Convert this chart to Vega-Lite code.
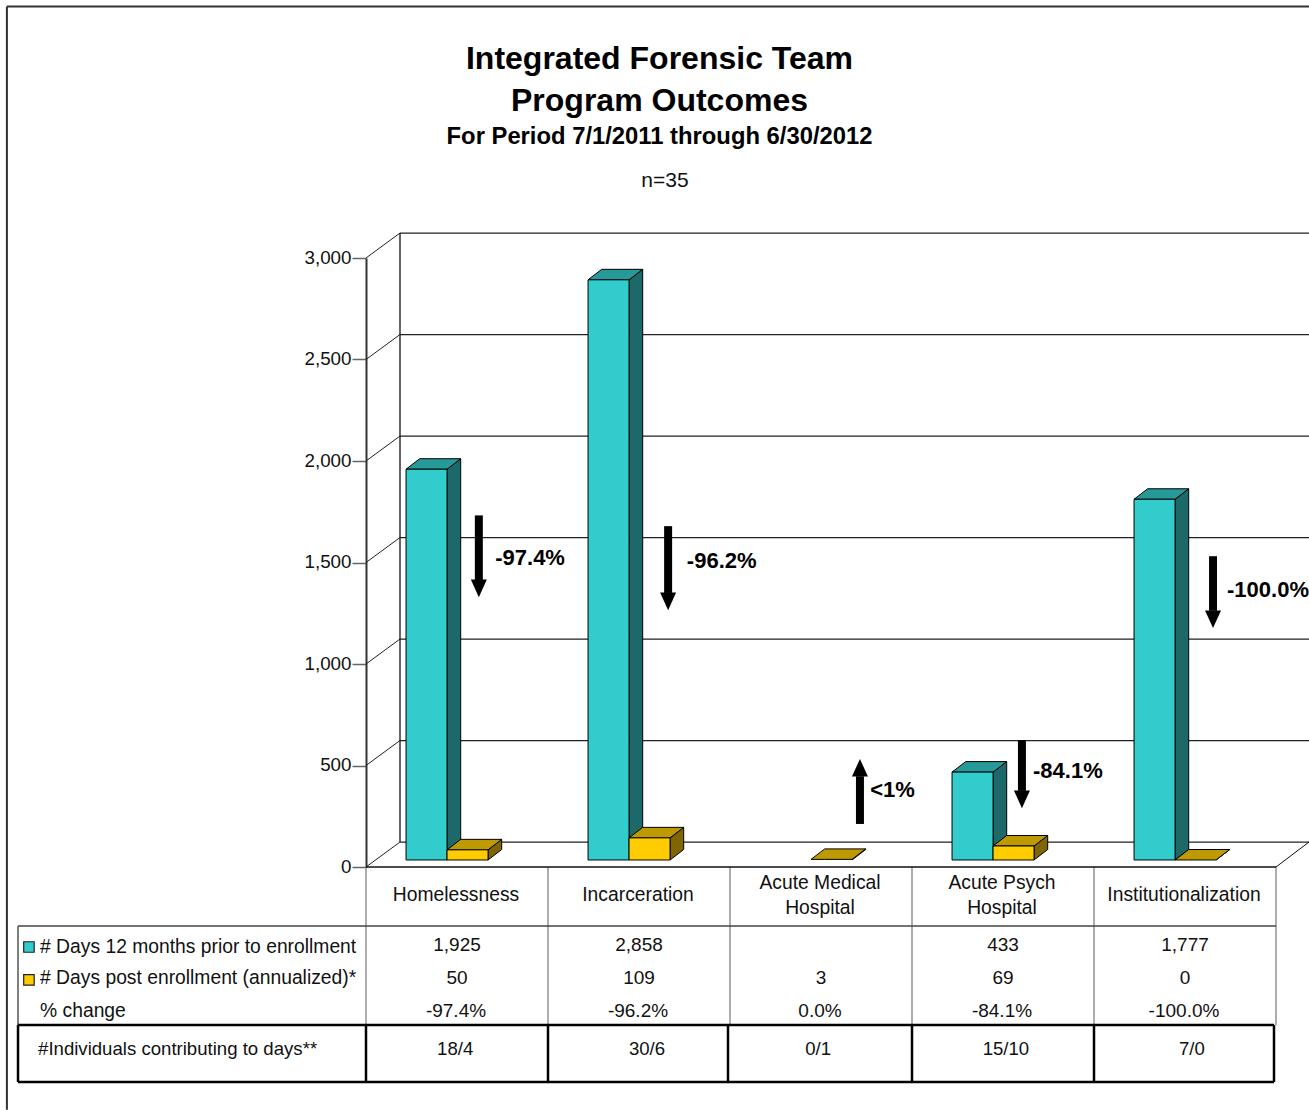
{
"$schema":"https://vega.github.io/schema/vega-lite/v6.json",
"width":943,"height":609,
"padding":{"left":5,"top":5,"right":0,"bottom":0},
"background":"#ffffff",
"title":{"text":["Integrated Forensic Team","Program Outcomes"],"subtitle":"For Period 7/1/2011 through 6/30/2012","anchor":"middle","frame":"group","dx":-178,"offset":-144,"font":"Liberation Sans","fontSize":32,"fontWeight":"bold","lineHeight":42,"color":"#000000","subtitleFont":"Liberation Sans","subtitleFontSize":23.8,"subtitleFontWeight":"bold","subtitleColor":"#000000","subtitlePadding":7},
"config":{"view":{"stroke":null},"axisX":{"disable":true},"axisY":{"labelFont":"Liberation Sans","labelFontSize":18.8,"labelColor":"#111111","labelPadding":1,"labelOffset":-1,"tickSize":14,"tickColor":"#666666","tickWidth":1.5,"domainColor":"#333333","domainWidth":2,"grid":false},"text":{"font":"Liberation Sans","fontSize":19.3,"baseline":"middle","color":"#111111"}},
"datasets":{
"bars":[
{"category":"Homelessness","series":"prior","days":1925},
{"category":"Homelessness","series":"post","days":50},
{"category":"Incarceration","series":"prior","days":2858},
{"category":"Incarceration","series":"post","days":109},
{"category":"Acute Medical Hospital","series":"post","days":3},
{"category":"Acute Psych Hospital","series":"prior","days":433},
{"category":"Acute Psych Hospital","series":"post","days":69},
{"category":"Institutionalization","series":"prior","days":1777},
{"category":"Institutionalization","series":"post","days":0}
],
"cols":[
{"category":"Homelessness","change":"-97.4%","people":"18/4","note":"-97.4%","from":1732,"to":1329},
{"category":"Incarceration","change":"-96.2%","people":"30/6","note":"-96.2%","from":1679,"to":1265},
{"category":"Acute Medical Hospital","change":"0.0%","people":"0/1","note":"<1%","from":212,"to":532},
{"category":"Acute Psych Hospital","change":"-84.1%","people":"15/10","note":"-84.1%","from":625,"to":290},
{"category":"Institutionalization","change":"-100.0%","people":"7/0","note":"-100.0%","from":1531,"to":1177}
],
"rowLabels":[
{"row":"prior","label":"# Days 12 months prior to enrollment"},
{"row":"post","label":"# Days post enrollment (annualized)*"},
{"row":"change","label":"% change"},
{"row":"people","label":"#Individuals contributing to days**"}
],
"grid":[{"v":0},{"v":500},{"v":1000},{"v":1500},{"v":2000},{"v":2500},{"v":3000}],
"edges":[{"b":0},{"b":1},{"b":2},{"b":3},{"b":4},{"b":5}]
},
"layer":[
{"data":{"name":"grid"},"transform":[{"calculate":"datum.v+123","as":"vb"}],"mark":{"type":"rule","color":"#222222","strokeWidth":1.2},
 "encoding":{"x":{"datum":0.1868,"scale":{"domain":[0,5.1813],"nice":false,"zero":false},"title":null},"x2":{"datum":5.1813},"y":{"field":"vb","type":"quantitative","scale":{"domain":[0,3000],"nice":false},"title":null,"axis":{"values":[0,500,1000,1500,2000,2500,3000],"format":",.0f"}}}},
{"data":{"name":"grid"},"transform":[{"calculate":"datum.v+123","as":"vb"}],"mark":{"type":"rule","color":"#222222","strokeWidth":1},
 "encoding":{"x":{"datum":0,"title":null},"x2":{"datum":0.1868},"y":{"field":"v","type":"quantitative","title":null},"y2":{"field":"vb"}}},
{"data":{"values":[{}]},"mark":{"type":"rule","color":"#111111","strokeWidth":1.3},"encoding":{"x":{"datum":0.1868,"title":null},"y":{"datum":123,"title":null},"y2":{"datum":3123}}},
{"data":{"values":[{}]},"mark":{"type":"rule","color":"#111111","strokeWidth":1},"encoding":{"x":{"datum":5,"title":null},"x2":{"datum":5.1813},"y":{"datum":0,"title":null},"y2":{"datum":123}}},
{"data":{"name":"bars"},"transform":[
 {"calculate":"indexof(['Homelessness','Incarceration','Acute Medical Hospital','Acute Psych Hospital','Institutionalization'],datum.category)","as":"i"},
 {"calculate":"datum.i+0.22+(datum.series=='post'?0.2253:0)","as":"x0"},
 {"calculate":"datum.x0+0.2253","as":"x1"},
 {"calculate":"34.5+datum.days","as":"top"},
 {"calculate":"datum.series+'-side'","as":"face"},
 {"calculate":"datum.category+datum.series","as":"key"},
 {"calculate":"[0,1]","as":"t"},{"flatten":["t"]},
 {"calculate":"datum.x1+datum.t*0.075","as":"px"},
 {"calculate":"datum.top+datum.t*51.7","as":"hi"},
 {"calculate":"34.5+datum.t*51.7","as":"lo"}],
 "mark":{"type":"area","orient":"vertical","stroke":"#000000","strokeWidth":1},
 "encoding":{"x":{"field":"px","type":"quantitative","title":null},"y":{"field":"hi","type":"quantitative","title":null,"stack":null},"y2":{"field":"lo"},"detail":{"field":"key"},
  "color":{"field":"face","type":"nominal","legend":null,"scale":{"domain":["prior-front","prior-side","prior-top","post-front","post-side","post-top"],"range":["#33CCCC","#1D6868","#269999","#FFCC00","#806600","#BF9900"]}}}},
{"data":{"name":"bars"},"transform":[
 {"calculate":"indexof(['Homelessness','Incarceration','Acute Medical Hospital','Acute Psych Hospital','Institutionalization'],datum.category)","as":"i"},
 {"calculate":"datum.i+0.22+(datum.series=='post'?0.2253:0)","as":"x0"},
 {"calculate":"34.5+datum.days","as":"top"},
 {"calculate":"datum.series+'-top'","as":"face"},
 {"calculate":"datum.category+datum.series","as":"key"},
 {"calculate":"[0,1,2,3]","as":"t"},{"flatten":["t"]},
 {"calculate":"datum.x0+[0,0.075,0.2253,0.3003][datum.t]","as":"px"},
 {"calculate":"datum.top+[0,51.7,51.7,51.7][datum.t]","as":"hi"},
 {"calculate":"datum.top+[0,0,0,51.7][datum.t]","as":"lo"}],
 "mark":{"type":"area","orient":"vertical","stroke":"#000000","strokeWidth":1},
 "encoding":{"x":{"field":"px","type":"quantitative","title":null},"y":{"field":"hi","type":"quantitative","title":null,"stack":null},"y2":{"field":"lo"},"detail":{"field":"key"},"color":{"field":"face","type":"nominal","legend":null}}},
{"data":{"name":"bars"},"transform":[
 {"filter":"datum.days>3"},
 {"calculate":"indexof(['Homelessness','Incarceration','Acute Medical Hospital','Acute Psych Hospital','Institutionalization'],datum.category)","as":"i"},
 {"calculate":"datum.i+0.22+(datum.series=='post'?0.2253:0)","as":"x0"},
 {"calculate":"datum.x0+0.2253","as":"x1"},
 {"calculate":"34.5+datum.days","as":"top"},
 {"calculate":"34.5","as":"base"},
 {"calculate":"datum.series+'-front'","as":"face"}],
 "mark":{"type":"rect","stroke":"#000000","strokeWidth":1},
 "encoding":{"x":{"field":"x0","type":"quantitative","title":null},"x2":{"field":"x1"},"y":{"field":"top","type":"quantitative","title":null},"y2":{"field":"base"},"color":{"field":"face","type":"nominal","legend":null}}},
{"data":{"name":"cols"},"transform":[
 {"calculate":"indexof(['Homelessness','Incarceration','Acute Medical Hospital','Acute Psych Hospital','Institutionalization'],datum.category)","as":"i"},
 {"calculate":"datum.i+[0.62,0.66,0.714,0.604,0.654][datum.i]","as":"ax"},
 {"calculate":"datum.to+(datum.to<datum.from?85:-85)","as":"neck"}],
 "layer":[
 {"mark":{"type":"rule","color":"#000000","strokeWidth":8},"encoding":{"x":{"field":"ax","type":"quantitative","title":null},"y":{"field":"from","type":"quantitative","title":null},"y2":{"field":"neck"}}},
 {"transform":[{"filter":"datum.to<datum.from"}],"mark":{"type":"point","shape":"M-1,-2.2L1,-2.2L0,0Z","filled":true,"size":256,"color":"#000000","opacity":1,"strokeWidth":0},"encoding":{"x":{"field":"ax","type":"quantitative","title":null},"y":{"field":"to","type":"quantitative","title":null}}},
 {"transform":[{"filter":"datum.to>datum.from"}],"mark":{"type":"point","shape":"M-1,2.2L1,2.2L0,0Z","filled":true,"size":256,"color":"#000000","opacity":1,"strokeWidth":0},"encoding":{"x":{"field":"ax","type":"quantitative","title":null},"y":{"field":"to","type":"quantitative","title":null}}},
 {"transform":[{"calculate":"datum.i+[0.71,0.763,0.77,0.665,0.731][datum.i]","as":"lx"},{"calculate":"[1522,1507,379,473,1364][datum.i]","as":"ly"}],"mark":{"type":"text","align":"left","fontWeight":"bold","fontSize":22,"color":"#000000"},"encoding":{"x":{"field":"lx","type":"quantitative","title":null},"y":{"field":"ly","type":"quantitative","title":null},"text":{"field":"note"}}}
 ]},
{"data":{"values":[{}]},"mark":{"type":"text","fontSize":21,"text":"n=35"},"encoding":{"x":{"datum":1.643,"title":null},"y":{"datum":3378,"title":null}}},
{"data":{"values":[{}]},"mark":{"type":"rule","color":"#333333","strokeWidth":2},"encoding":{"x":{"datum":-1.973,"title":null},"x2":{"datum":5.1813},"y":{"datum":4239,"title":null}}},
{"data":{"values":[{}]},"mark":{"type":"rule","color":"#333333","strokeWidth":2},"encoding":{"x":{"datum":-1.973,"title":null},"y":{"datum":4239,"title":null},"y2":{"datum":-1196}}},
{"data":{"name":"edges"},"mark":{"type":"rule","color":"#777777","strokeWidth":1.2},"encoding":{"x":{"field":"b","type":"quantitative","title":null},"y":{"datum":0,"title":null},"y2":{"datum":-778}}},
{"data":{"values":[{}]},"mark":{"type":"rule","color":"#111111","strokeWidth":1.5},"encoding":{"x":{"datum":0,"title":null},"x2":{"datum":5},"y":{"datum":0,"title":null}}},
{"data":{"values":[{}]},"mark":{"type":"rule","color":"#444444","strokeWidth":1.5},"encoding":{"x":{"datum":-1.912,"title":null},"x2":{"datum":5},"y":{"datum":-290.5,"title":null}}},
{"data":{"values":[{}]},"mark":{"type":"rule","color":"#555555","strokeWidth":1.5},"encoding":{"x":{"datum":-1.912,"title":null},"y":{"datum":-290.5,"title":null},"y2":{"datum":-778}}},
{"data":{"name":"edges"},"transform":[{"calculate":"datum.b+[0,0,-0.011,0,0,-0.011][datum.b]","as":"bx"}],"mark":{"type":"rule","color":"#000000","strokeWidth":2.5},"encoding":{"x":{"field":"bx","type":"quantitative","title":null},"y":{"datum":-778,"title":null},"y2":{"datum":-1059}}},
{"data":{"values":[{}]},"mark":{"type":"rule","color":"#000000","strokeWidth":2.5},"encoding":{"x":{"datum":-1.912,"title":null},"y":{"datum":-778,"title":null},"y2":{"datum":-1059}}},
{"data":{"values":[{}]},"mark":{"type":"rule","color":"#000000","strokeWidth":2.5},"encoding":{"x":{"datum":-1.912,"title":null},"x2":{"datum":4.989},"y":{"datum":-778,"title":null}}},
{"data":{"values":[{}]},"mark":{"type":"rule","color":"#000000","strokeWidth":2.5},"encoding":{"x":{"datum":-1.912,"title":null},"x2":{"datum":4.989},"y":{"datum":-1059,"title":null}}},
{"data":{"name":"cols"},"transform":[
 {"calculate":"indexof(['Homelessness','Incarceration','Acute Medical Hospital','Acute Psych Hospital','Institutionalization'],datum.category)","as":"i"},
 {"calculate":"datum.i+0.4945","as":"cx"},
 {"calculate":"replace(datum.category,' Hospital','\\nHospital')","as":"label"},
 {"calculate":"indexof(datum.category,' Hospital')>0?-79:-138","as":"ly"},
 {"calculate":"datum.i+[0.49,0.544,0.484,0.516,0.538][datum.i]","as":"px"}],
 "layer":[
 {"mark":{"type":"text","lineBreak":"\n","lineHeight":25},"encoding":{"x":{"field":"cx","type":"quantitative","title":null},"y":{"field":"ly","type":"quantitative","title":null},"text":{"field":"label"}}},
 {"mark":{"type":"text","fontSize":19},"encoding":{"x":{"field":"cx","type":"quantitative","title":null},"y":{"datum":-709,"title":null},"text":{"field":"change"}}},
 {"mark":{"type":"text","fontSize":18.6},"encoding":{"x":{"field":"px","type":"quantitative","title":null},"y":{"datum":-896,"title":null},"text":{"field":"people"}}}
 ]},
{"data":{"name":"bars"},"transform":[
 {"calculate":"indexof(['Homelessness','Incarceration','Acute Medical Hospital','Acute Psych Hospital','Institutionalization'],datum.category)+0.5","as":"cx"},
 {"calculate":"datum.series=='prior'?-384:-547","as":"ry"}],
 "mark":{"type":"text","fontSize":19},"encoding":{"x":{"field":"cx","type":"quantitative","title":null},"y":{"field":"ry","type":"quantitative","title":null},"text":{"field":"days","type":"quantitative","format":","}}},
{"data":{"name":"rowLabels"},"transform":[
 {"filter":"datum.row!='people'"},
 {"calculate":"{prior:-392,post:-549,change:-711}[datum.row]","as":"ry"},
 {"calculate":"-1.791","as":"lx"}],
 "mark":{"type":"text","align":"left"},"encoding":{"x":{"field":"lx","type":"quantitative","title":null},"y":{"field":"ry","type":"quantitative","title":null},"text":{"field":"label"}}},
{"data":{"name":"rowLabels"},"transform":[
 {"filter":"datum.row=='people'"},
 {"calculate":"-1.802","as":"lx"},
 {"calculate":"-896","as":"ry"}],
 "mark":{"type":"text","align":"left","fontSize":18.6},"encoding":{"x":{"field":"lx","type":"quantitative","title":null},"y":{"field":"ry","type":"quantitative","title":null},"text":{"field":"label"}}},
{"data":{"name":"rowLabels"},"transform":[
 {"filter":"datum.row=='prior'||datum.row=='post'"},
 {"calculate":"{prior:-394,post:-556}[datum.row]","as":"ry"},
 {"calculate":"datum.row+'-front'","as":"face"}],
 "mark":{"type":"point","shape":"square","filled":true,"size":110,"stroke":"#222222","strokeWidth":1.2,"opacity":1},"encoding":{"x":{"datum":-1.852,"title":null},"y":{"field":"ry","type":"quantitative","title":null},"color":{"field":"face","type":"nominal","legend":null}}}
]
}
